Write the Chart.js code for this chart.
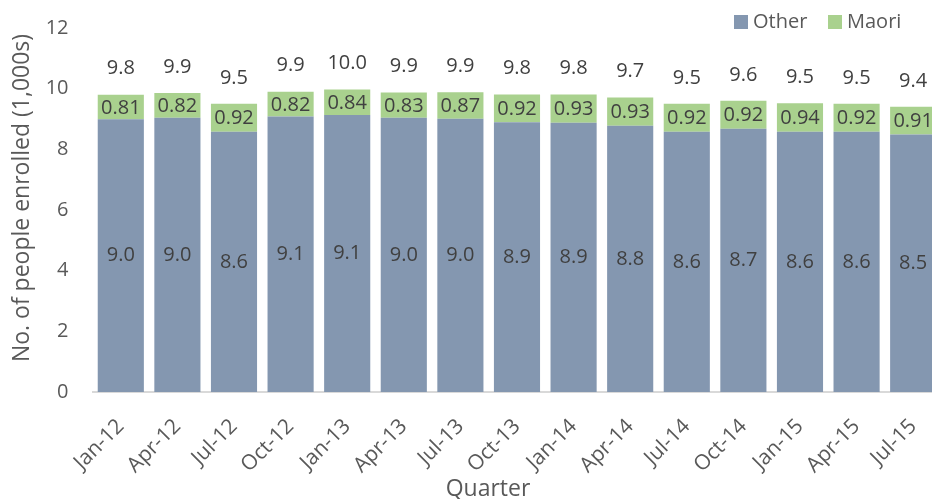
<!DOCTYPE html>
<html>
<head>
<meta charset="utf-8">
<script src="https://cdn.jsdelivr.net/npm/chart.js@4.4.0/dist/chart.umd.min.js"></script>
<style>
html,body{margin:0;padding:0;background:#fff;overflow:hidden;width:932px;height:499px;}
#wrap{width:945px;height:499px;}
</style>
</head>
<body>
<div id="wrap"><canvas id="c" width="945" height="499"></canvas></div>
<script>
const categories = ["Jan-12","Apr-12","Jul-12","Oct-12","Jan-13","Apr-13","Jul-13","Oct-13","Jan-14","Apr-14","Jul-14","Oct-14","Jan-15","Apr-15","Jul-15"];
const otherValues = [8.99, 9.04, 8.58, 9.08, 9.13, 9.04, 9.01, 8.89, 8.88, 8.78, 8.58, 8.68, 8.58, 8.58, 8.49];
const maoriValues = [0.81, 0.82, 0.92, 0.82, 0.84, 0.83, 0.87, 0.92, 0.93, 0.93, 0.92, 0.92, 0.94, 0.92, 0.91];
const yTicks = [0, 2, 4, 6, 8, 10, 12];

const FONT = "'Open Sans', sans-serif";
const TEXT = '#595959';
const LABEL = '#404040';
const BLUE = '#8497B0';
const GREEN = '#A9D18E';

const labelPlugin = {
  id: 'labels',
  afterDatasetsDraw(chart) {
    const ctx = chart.ctx;
    ctx.save();
    ctx.font = "20px " + FONT;
    ctx.fillStyle = LABEL;
    ctx.textAlign = 'center';
    ctx.textBaseline = 'middle';
    const m0 = chart.getDatasetMeta(0), m1 = chart.getDatasetMeta(1);
    categories.forEach((c, i) => {
      const b0 = m0.data[i], b1 = m1.data[i];
      ctx.fillText(otherValues[i].toFixed(1), b0.x, (b0.y + b0.base) / 2);
      ctx.fillText(maoriValues[i].toFixed(2), b1.x, (b1.y + b1.base) / 2 + 1);
      const total = otherValues[i] + maoriValues[i];
      ctx.fillText(total.toFixed(1), b1.x, b1.y - 26);
    });
    // legend
    ctx.textAlign = 'left';
    const items = [{x: 734, ds: 0}, {x: 828, ds: 1}];
    items.forEach(it => {
      const d = chart.data.datasets[it.ds];
      ctx.fillStyle = d.backgroundColor;
      ctx.fillRect(it.x, 15, 14, 14);
      ctx.fillStyle = TEXT;
      ctx.fillText(d.label, it.x + 19, 22);
    });
    // axis titles
    ctx.fillStyle = TEXT;
    ctx.font = "23px " + FONT;
    ctx.textAlign = 'center';
    ctx.fillText('Quarter', 488, 489);
    ctx.translate(22, 198);
    ctx.rotate(-Math.PI / 2);
    ctx.fillText('No. of people enrolled (1,000s)', 0, 0);
    ctx.restore();
  }
};

new Chart(document.getElementById('c'), {
  type: 'bar',
  data: {
    labels: categories,
    datasets: [
      {label: 'Other', data: otherValues, backgroundColor: BLUE, barPercentage: 0.815, categoryPercentage: 1},
      {label: 'Maori', data: maoriValues, backgroundColor: GREEN, barPercentage: 0.815, categoryPercentage: 1}
    ]
  },
  options: {
    responsive: false,
    animation: false,
    devicePixelRatio: 1,
    layout: {padding: {top: 17, right: 0, bottom: 0, left: 0}},
    plugins: {legend: {display: false}, tooltip: {enabled: false}},
    scales: {
      x: {
        stacked: true,
        grid: {display: false},
        border: {display: true, color: '#D9D9D9', width: 2},
        ticks: {color: TEXT, font: {family: FONT, size: 21}, maxRotation: 45, minRotation: 45, padding: 14, autoSkip: false},
        afterFit(s) { s.height = 107; }
      },
      y: {
        stacked: true,
        min: 0, max: 12,
        afterBuildTicks(s) { s.ticks = yTicks.map(v => ({value: v})); },
        grid: {display: false},
        border: {display: false},
        ticks: {color: TEXT, font: {family: FONT, size: 20}, padding: 16},
        afterFit(s) { s.width = 92.5; }
      }
    }
  },
  plugins: [labelPlugin]
});
</script>
</body>
</html>
